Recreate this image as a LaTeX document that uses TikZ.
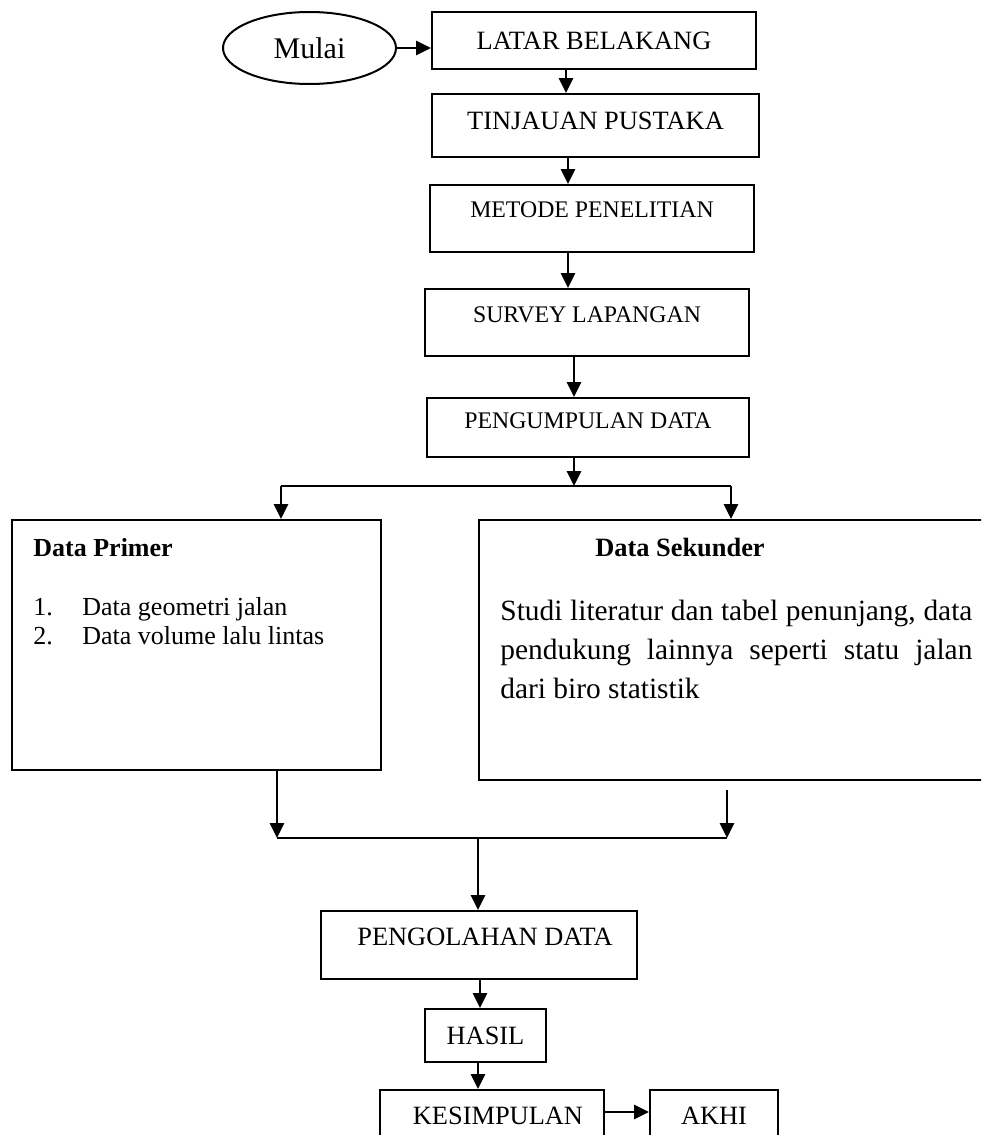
\documentclass[tikz,border=0pt]{standalone}
\usepackage{fontspec}
\setmainfont{Liberation Serif}
\usetikzlibrary{arrows.meta,shapes.geometric}
\tikzset{
  box/.style={draw, line width=1pt, inner sep=0pt, align=center},
  conn/.style={line width=1.35pt, -{Triangle[width=7pt,length=7.5pt]}},
  plain/.style={line width=1.35pt},
  fbig/.style={font=\fontsize{13.2}{15}\selectfont, text height=8.7pt},
  fsmall/.style={font=\fontsize{11.9}{14}\selectfont, text height=7.9pt},
}
\begin{document}
\begin{tikzpicture}[x=0.5pt,y=-0.5pt]
\useasboundingbox (0,0) rectangle (981,1135);
\clip (0,0) rectangle (981,1135);
% top chain
\node[box, ellipse, minimum width=86.5pt, minimum height=36pt, font=\fontsize{15}{17}\selectfont] (start) at (309.5,48) {Mulai};
\node[box, fbig, text depth=0pt, minimum width=162pt, minimum height=28.5pt] (latar) at (594,40.5) {LATAR BELAKANG};
\node[box, fbig, text depth=4.5pt, minimum width=163.5pt, minimum height=31.5pt] (tinj) at (595.5,125.5) {TINJAUAN PUSTAKA};
\node[box, fsmall, text depth=8.5pt, minimum width=162pt, minimum height=33.5pt] (metode) at (592,218.5) {METODE PENELITIAN};
\node[box, fsmall, text depth=8pt, minimum width=162pt, minimum height=33.5pt] (survey) at (587,322.5) {SURVEY LAPANGAN};
\node[box, fsmall, text depth=6.5pt, minimum width=161pt, minimum height=29.5pt] (peng) at (588,427.5) {PENGUMPULAN DATA};
% two data boxes
\node[box, minimum width=184.5pt, minimum height=125pt] (primer) at (196.5,645) {};
\node[box, minimum width=260.5pt, minimum height=130pt] (sekunder) at (739.5,650) {};
\node[anchor=base west, inner sep=0pt, font=\fontsize{13}{15}\selectfont\bfseries] (primerhead) at (33,556) {Data Primer};
\node[anchor=base west, inner sep=0pt, font=\fontsize{13}{15}\selectfont] (list1) at (33,615) {\makebox[24.5pt][l]{1.}Data geometri jalan};
\node[anchor=base west, inner sep=0pt, font=\fontsize{13}{15}\selectfont] (list2) at (33,644) {\makebox[24.5pt][l]{2.}Data volume lalu lintas};
\node[anchor=base, inner sep=0pt, font=\fontsize{13.2}{15}\selectfont\bfseries] (sekhead) at (680,556) {Data Sekunder};
\node[anchor=north west, inner sep=0pt, text width=236pt, align=justify, font=\fontsize{14.7}{19.5}\selectfont] (sektext) at (500,600)
  {Studi literatur dan tabel penunjang, data\linebreak pendukung lainnya seperti statu jalan\linebreak dari biro statistik};
% lower chain
\node[box, fbig, text depth=8pt, minimum width=158pt, minimum height=34pt] (olah) at (479,945) {\hspace*{6pt}PENGOLAHAN DATA};
\node[box, fbig, text depth=0pt, minimum width=60.5pt, minimum height=26.5pt] (hasil) at (485.5,1035.5) {HASIL};
\node[box, fbig, text depth=0pt, minimum width=112pt, minimum height=26pt] (kes) at (492,1116) {\hspace*{6pt}KESIMPULAN};
\node[box, fbig, text depth=0pt, minimum width=64pt, minimum height=26pt] (akhi) at (714,1116) {AKHI};
% connector points
\coordinate (split) at (574,486);
\coordinate (splitL) at (281,486);
\coordinate (splitR) at (731,486);
\coordinate (mergeL) at (277,838);
\coordinate (mergeR) at (727,838);
\coordinate (merge) at (478,838);
\coordinate (sekout) at (727,790);
% connectors
\draw[conn] (start.east) -- (start.east -| latar.west);
\draw[conn] (latar.south -| 566,0) -- (tinj.north -| 566,0);
\draw[conn] (tinj.south -| 568,0) -- (metode.north -| 568,0);
\draw[conn] (metode.south -| 568,0) -- (survey.north -| 568,0);
\draw[conn] (survey.south -| 574,0) -- (peng.north -| 574,0);
\draw[conn] (peng.south -| split) -- (split);
\draw[plain] (splitL) -- (splitR);
\draw[conn] (splitL) -- (primer.north -| splitL);
\draw[conn] (splitR) -- (sekunder.north -| splitR);
\draw[conn] (primer.south -| mergeL) -- (mergeL);
\draw[conn] (sekout) -- (mergeR);
\draw[plain] (mergeL) -- (mergeR);
\draw[conn] (merge) -- (olah.north -| merge);
\draw[conn] (olah.south -| 480,0) -- (hasil.north -| 480,0);
\draw[conn] (hasil.south -| 478,0) -- (kes.north -| 478,0);
\draw[conn] (kes.east |- 0,1112) -- (akhi.west |- 0,1112);
\end{tikzpicture}
\end{document}
